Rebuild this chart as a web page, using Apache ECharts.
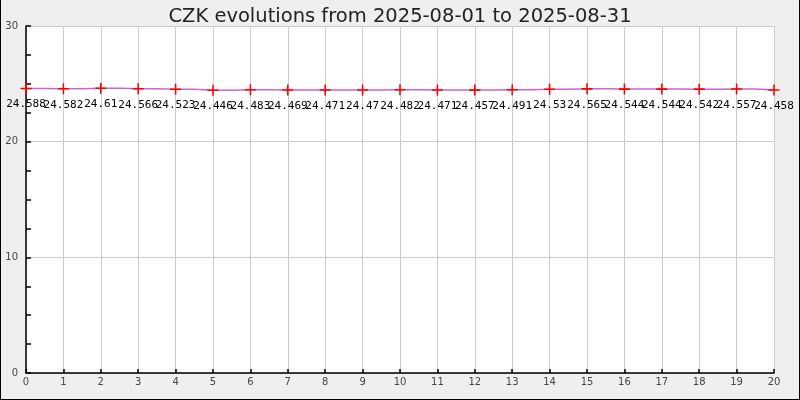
<!DOCTYPE html>
<html><head><meta charset="utf-8">
<script src="https://cdn.jsdelivr.net/npm/echarts@6/dist/echarts.min.js"></script>
<style>
html,body{margin:0;padding:0;background:#efefef;}
#c{width:800px;height:400px;box-sizing:border-box;border-right:1px solid #000;border-bottom:1px solid #000;border-left:1px solid #000;}
</style></head>
<body><div id="c"></div>
<script>
const titleText = 'CZK evolutions from 2025-08-01 to 2025-08-31';
const xIndex = [0,1,2,3,4,5,6,7,8,9,10,11,12,13,14,15,16,17,18,19,20];
const rates = [24.588,24.582,24.61,24.566,24.523,24.446,24.483,24.469,24.471,24.47,24.482,24.471,24.457,24.491,24.53,24.565,24.544,24.544,24.542,24.557,24.458];

const chart = echarts.init(document.getElementById('c'), null, {renderer:'canvas'});
const data = xIndex.map((x,i)=>[x, rates[i]]);
chart.setOption({
  backgroundColor: '#efefef',
  animation: false,
  title: {text: titleText, left: 'center', top: 2,
    textStyle: {fontFamily: 'DejaVu Sans', fontSize: 19.5, fontWeight: 'normal', color: '#222'}},
  grid: {left: 25, right: 25, top: 26, bottom: 26, containLabel: false,
    show: true, backgroundColor: '#fff', borderWidth: 0},
  xAxis: {type: 'value', min: 0, max: 20, interval: 1,
    axisLine: {show: true, onZero: false, lineStyle: {color: '#000', width: 1.5}},
    axisTick: {show: true, inside: true, length: 4, lineStyle: {color: '#000', width: 1.5}},
    axisLabel: {color: '#444', fontFamily: 'DejaVu Sans', fontSize: 10, margin: 4},
    splitLine: {show: true, lineStyle: {color: '#ccc', width: 1}}},
  yAxis: {type: 'value', min: 0, max: 30, interval: 10,
    axisLine: {show: true, onZero: false, lineStyle: {color: '#000', width: 1.5}},
    axisTick: {show: true, inside: true, length: 5, lineStyle: {color: '#000', width: 1.5}},
    minorTick: {show: true, splitNumber: 4, length: 5, lineStyle: {color: '#000', width: 1.5}},
    axisLabel: {color: '#444', fontFamily: 'DejaVu Sans', fontSize: 10, margin: 8},
    splitLine: {show: true, lineStyle: {color: '#ccc', width: 1}}},
  series: [{
    type: 'line', data: data, step: 'middle',
    lineStyle: {color: '#cc66cc', width: 1.5},
    symbol: 'path://M0,4.3H10V5.7H0Z M4.3,0H5.7V10H4.3Z',
    symbolSize: 11, symbolKeepAspect: true,
    itemStyle: {color: '#ff0000'},
    label: {show: true, position: 'bottom', distance: 5, color: '#000',
      fontFamily: 'DejaVu Sans Mono', fontSize: 11,
      formatter: p => String(p.value[1])}
  }]
});
</script></body></html>
